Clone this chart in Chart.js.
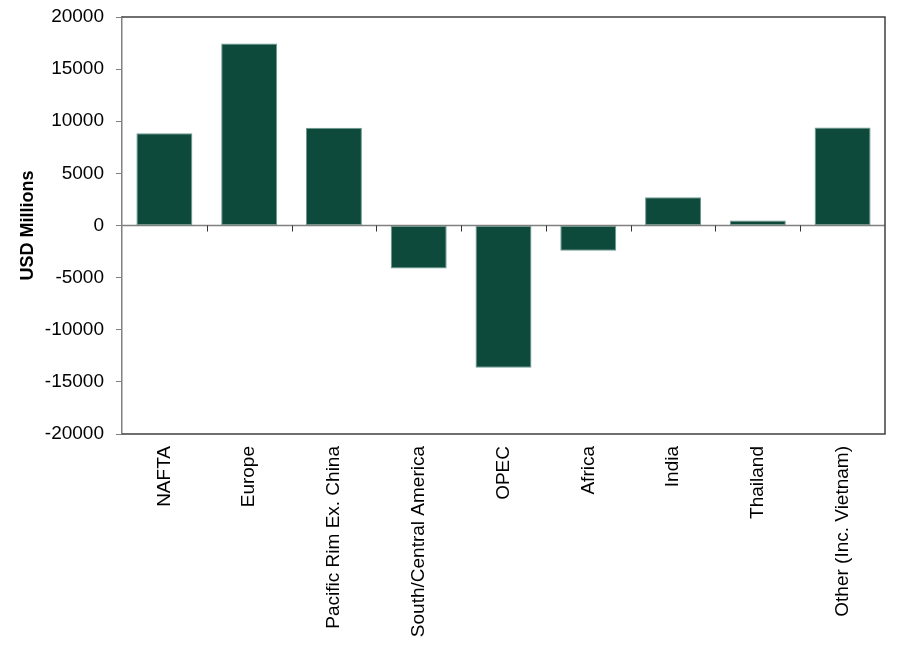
<!DOCTYPE html>
<html>
<head>
<meta charset="utf-8">
<script src="https://cdn.jsdelivr.net/npm/chart.js@4"></script>
<style>
  html, body { margin: 0; padding: 0; background: #fff; }
</style>
</head>
<body>
<canvas id="grafico" width="900" height="653"></canvas>
<script>
// datos
const regiones = ['NAFTA', 'Europe', 'Pacific Rim Ex. China', 'South/Central America', 'OPEC', 'Africa', 'India', 'Thailand', 'Other (Inc. Vietnam)'];
const balance = [8850, 17450, 9380, -4130, -13650, -2430, 2710, 480, 9400];
const yMin = -20000;
const yMax = 20000;
const yPaso = 5000;

const verde = '#0e4a3b';
const fuente = 'Liberation Sans, Arial, sans-serif';

// linea del cero con marcas y marco del area
const marco = {
  id: 'marco',
  afterDatasetsDraw(chart) {
    const { ctx, chartArea: a, scales } = chart;
    const y0 = scales.y.getPixelForValue(0);
    ctx.save();
    ctx.strokeStyle = '#808080';
    ctx.lineWidth = 1.5;
    ctx.beginPath();
    ctx.moveTo(a.left, y0);
    ctx.lineTo(a.right, y0);
    ctx.stroke();

    ctx.strokeStyle = '#333';
    ctx.lineWidth = 1;
    for (let i = 1; i < regiones.length; i++) {
      const xb = Math.round((scales.x.getPixelForValue(i - 1) + scales.x.getPixelForValue(i)) / 2) + 0.5;
      ctx.beginPath();
      ctx.moveTo(xb, y0);
      ctx.lineTo(xb, y0 + 6);
      ctx.stroke();
    }

    ctx.strokeStyle = '#404040';
    ctx.lineWidth = 1.5;
    ctx.beginPath();
    ctx.moveTo(a.left, a.top);
    ctx.lineTo(a.right, a.top);
    ctx.lineTo(a.right, a.bottom);
    ctx.lineTo(a.left, a.bottom);
    ctx.stroke();
    ctx.restore();
  }
};

const ctx = document.getElementById('grafico').getContext('2d');
const myChart = new Chart(ctx, {
  type: 'bar',
  data: {
    labels: regiones,
    datasets: [{
      label: 'USD Millions',
      data: balance,
      backgroundColor: verde,
      borderColor: '#6e9a8e',
      borderWidth: 1,
      borderSkipped: false,
      categoryPercentage: 1,
      barPercentage: 0.66
    }]
  },
  options: {
    responsive: false,
    animation: false,
    layout: { padding: { left: 0, top: 17, right: 15, bottom: 0 } },
    plugins: {
      legend: { display: false },
      tooltip: { enabled: false }
    },
    scales: {
      x: {
        grid: { display: false, drawTicks: false },
        border: { display: false },
        ticks: {
          color: '#000',
          font: { family: fuente, size: 19 },
          minRotation: 90,
          maxRotation: 90,
          autoSkip: false,
          padding: 12
        },
        afterFit(scale) { scale.height = 653 - 434; }
      },
      y: {
        min: yMin,
        max: yMax,
        border: { color: '#808080', width: 1.5 },
        grid: { drawOnChartArea: false, tickLength: 6, color: '#808080' },
        ticks: {
          stepSize: yPaso,
          color: '#000',
          font: { family: fuente, size: 19 },
          padding: 12,
          callback: (v) => String(v)
        },
        title: {
          display: true,
          text: 'USD Millions',
          color: '#000',
          font: { family: fuente, size: 18, weight: 'bold' },
          padding: { top: 17, bottom: 0 }
        },
        afterFit(scale) {
          scale.width = 122;
          scale.paddingTop = 0;
          scale.paddingBottom = 0;
        }
      }
    }
  },
  plugins: [marco]
});
</script>
</body>
</html>
